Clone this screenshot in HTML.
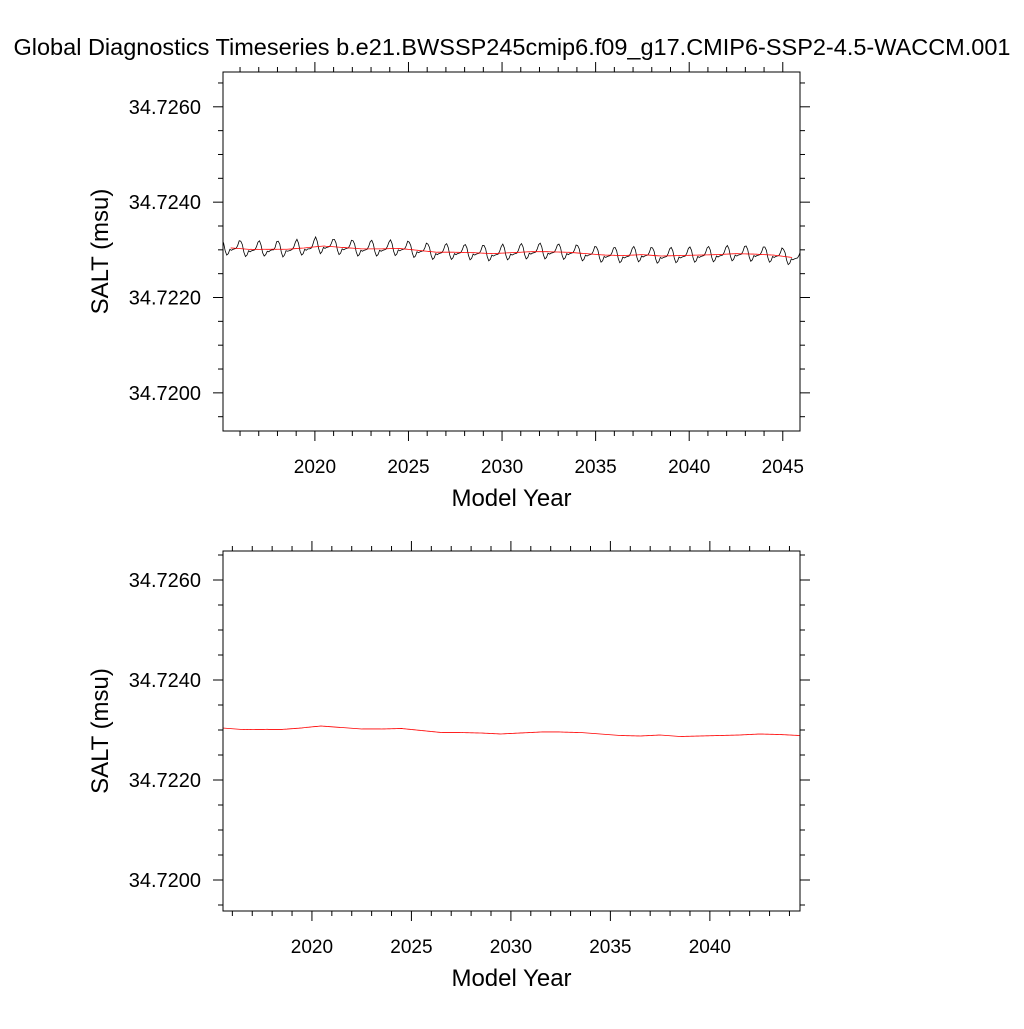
<!DOCTYPE html>
<html><head><meta charset="utf-8"><style>
body{margin:0;background:#fff}
svg text{font-family:"Liberation Sans",sans-serif;fill:#000}
</style></head><body>
<svg id="c" width="1024" height="1024" viewBox="0 0 1024 1024" xmlns="http://www.w3.org/2000/svg">
<rect width="1024" height="1024" fill="#fff"/>
<text x="512" y="55" font-size="23.5" text-anchor="middle">Global Diagnostics Timeseries b.e21.BWSSP245cmip6.f09_g17.CMIP6-SSP2-4.5-WACCM.001</text>
</svg>
<script>
const startYear = 2015.04;
const salt = [
321,314,298,289,292,301,299,301,302,303,309,319,
318,311,295,286,289,298,296,298,299,300,306,316,
319,310,294,287,290,297,296,299,300,300,305,317,
318,312,295,285,289,298,297,298,299,301,306,316,
322,314,297,289,292,301,299,302,302,303,309,320,
327,318,302,292,296,305,303,305,306,307,313,322,
322,315,299,290,293,302,300,302,303,304,310,320,
319,312,296,287,290,299,297,299,300,301,307,317,
320,312,296,287,290,299,297,299,300,301,307,316,
321,313,297,288,291,300,298,300,301,302,308,318,
316,309,293,284,287,296,294,296,297,298,304,314,
312,305,289,280,283,292,290,292,293,294,300,310,
313,305,289,280,283,292,290,292,293,294,300,309,
311,304,288,279,282,291,289,291,292,293,299,309,
309,302,286,277,280,289,287,289,290,291,297,307,
312,304,288,279,282,291,289,291,292,293,299,309,
313,306,290,281,284,293,291,293,294,295,301,311,
314,306,290,281,284,293,291,293,294,295,301,310,
312,305,289,280,283,292,290,292,293,294,300,310,
309,302,286,277,280,289,287,289,290,291,297,307,
306,299,283,274,277,286,284,286,287,288,294,304,
305,298,282,273,276,285,283,285,286,287,293,303,
307,300,284,275,278,287,285,287,288,289,295,305,
304,297,281,272,275,284,282,284,285,286,292,302,
305,298,282,273,276,285,283,285,286,287,293,303,
306,299,283,274,277,286,284,286,287,288,294,304,
307,300,284,275,278,287,285,287,288,289,295,305,
309,302,286,277,280,289,287,289,290,291,297,307,
308,301,285,276,279,288,286,288,289,290,296,306,
306,299,283,274,277,286,284,286,287,288,294,304,
301,294,278,269,272,281,279,281,282,283,289,299
]; // units of 1e-5 above 34.7200
const yTickLabels = ["34.7200","34.7220","34.7240","34.7260"];
const yTickValues = [34.7200,34.7220,34.7240,34.7260];
const xTickLabels = ["2020","2025","2030","2035","2040","2045"];
const xTickValues = [2020,2025,2030,2035,2040,2045];

const NS="http://www.w3.org/2000/svg";
const svg=document.getElementById('c');
function mk(tag,attrs,parent){const e=document.createElementNS(NS,tag);for(const k in attrs)e.setAttribute(k,attrs[k]);(parent||svg).appendChild(e);return e;}

const vals=salt.map(v=>34.7200+v*1e-5);
const times=vals.map((v,i)=>startYear+i/12);
const rm=[],rt=[];
for(let i=6;i<=vals.length-6;i++){let s=0;for(let j=i-6;j<i+6;j++)s+=vals[j];rm.push(s/12);rt.push(times[i]-1/24);}

function panel(name,L,R,T,B,x0,x1,y0,y1,series){
  const g=mk('g',{});
  
  
  const X=v=>L+(v-x0)/(x1-x0)*(R-L);
  const Y=v=>B-(v-y0)/(y1-y0)*(B-T);
  const cid=name+'-clip';
  const cp=mk('clipPath',{id:cid},g);mk('rect',{x:L,y:T,width:R-L,height:B-T},cp);
  series.forEach(s=>{
    const d=s.t.map((t,i)=>(i?'L':'M')+X(t).toFixed(2)+','+Y(s.v[i]).toFixed(2)).join('');
    const p=mk('path',{d:d,fill:'none',stroke:s.c,'stroke-width':s.w,'clip-path':'url(#'+cid+')'},g);
    
    
  });
  const fr=mk('rect',{x:L,y:T,width:R-L,height:B-T,fill:'none',stroke:'#000','stroke-width':1},g);
  
  
  for(let yr=Math.ceil(x0);yr<=x1;yr++){
    const x=X(yr),maj=yr%5===0,len=maj?10:5;
    mk('line',{x1:x,x2:x,y1:B,y2:B+len,stroke:'#000','stroke-width':1},g);
    mk('line',{x1:x,x2:x,y1:T,y2:T-len,stroke:'#000','stroke-width':1},g);
  }
  xTickValues.forEach((v,i)=>{if(v<x0||v>x1)return;
    const t=mk('text',{x:X(v),y:B+42,'font-size':19,'text-anchor':'middle'},g);t.textContent=xTickLabels[i];
    
    });
  for(let k=Math.ceil(y0/0.0005-1e-6);k*0.0005<=y1+1e-9;k++){
    const v=k*0.0005,y=Y(v),maj=(k%4===0),len=maj?10:5;
    mk('line',{x1:L,x2:L-len,y1:y,y2:y,stroke:'#000','stroke-width':1},g);
    mk('line',{x1:R,x2:R+len,y1:y,y2:y,stroke:'#000','stroke-width':1},g);
  }
  yTickValues.forEach((v,i)=>{
    const t=mk('text',{x:L-22,y:Y(v)+7,'font-size':20,'text-anchor':'end'},g);t.textContent=yTickLabels[i];
    
    });
  const yt=mk('text',{x:0,y:0,'font-size':24,'text-anchor':'middle',transform:'translate(108,'+((T+B)/2)+') rotate(-90)'},g);
  yt.textContent='SALT (msu)';
  
  
  const xt=mk('text',{x:(L+R)/2,y:B+75,'font-size':24,'text-anchor':'middle'},g);
  xt.textContent='Model Year';
  
  
}
panel('top-panel',223,800,72,431,2015.09,2045.92,34.71920,34.72673,[
  {t:times,v:vals,c:'#000',w:0.8,n:'monthly-salt-line'},
  {t:rt,v:rm,c:'#ff0000',w:0.8,n:'running-mean-line'}]);
panel('bottom-panel',223,800,551,911,2015.53,2044.53,34.71938,34.72658,[
  {t:rt,v:rm,c:'#ff0000',w:0.8,n:'running-mean-line'}]);
</script>
</body></html>
